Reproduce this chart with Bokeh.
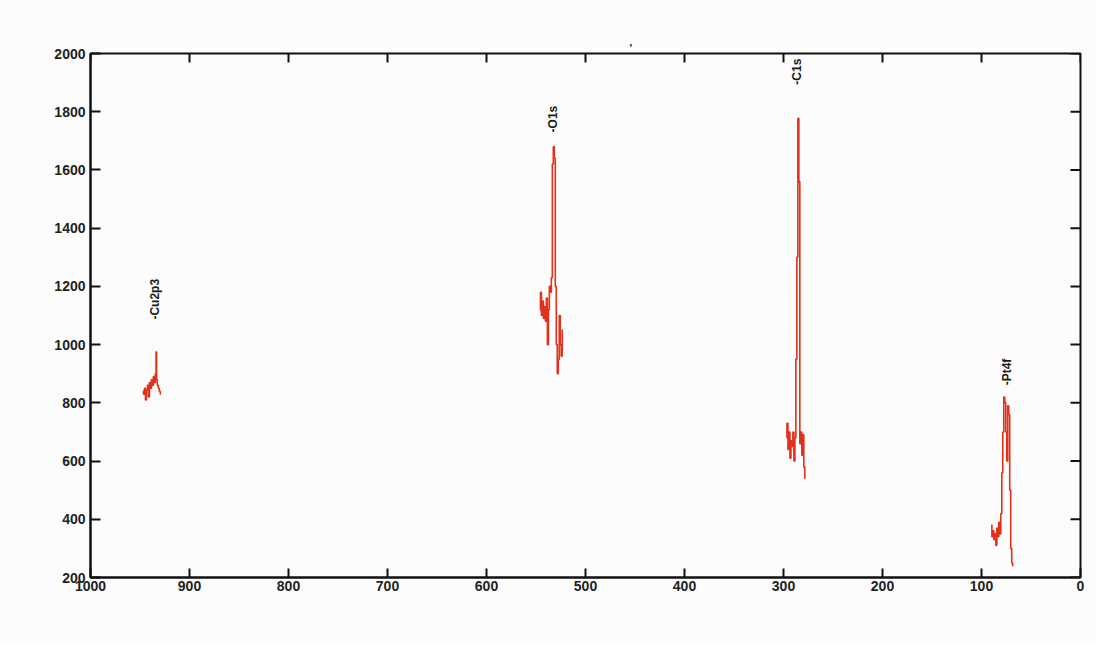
import numpy as np
from bokeh.plotting import figure
from bokeh.models import Range1d, FixedTicker, Title
from bokeh.core.properties import value
from bokeh.embed import file_html
from bokeh.resources import INLINE

# ---- data (binding energy, counts) ----
cu_x = [947, 946, 945, 944, 943, 942, 941, 940, 939, 938, 937, 936, 935, 934, 933.5, 933, 932, 931, 930, 929]
cu_y = [840, 830, 850, 810, 845, 860, 820, 870, 850, 880, 860, 890, 870, 900, 975, 880, 860, 850, 840, 830]

o_x = [546, 545, 544, 543, 542, 541, 540, 539, 538, 537, 536, 535, 534, 533, 532, 531, 530, 529, 528, 527, 526, 525, 524, 523]
o_y = [1120, 1180, 1100, 1150, 1090, 1130, 1080, 1160, 1000, 1120, 1200, 1180, 1230, 1620, 1680, 1640, 1200, 1000, 900, 950, 1100, 1000, 960, 1050]

c_x = [297, 296, 295, 294, 293, 292, 291, 290, 289, 288, 287, 286, 285, 284, 283, 282, 281, 280, 279, 278]
c_y = [680, 730, 640, 700, 610, 670, 650, 700, 600, 680, 950, 1300, 1777, 1560, 660, 700, 620, 690, 580, 540]

pt_x = [90, 89, 88, 87, 86, 85, 84, 83, 82, 81, 80, 79, 78, 77, 76, 75, 74, 73, 72, 71, 70, 69, 68]
pt_y = [380, 340, 360, 330, 350, 310, 370, 340, 390, 350, 420, 560, 700, 820, 800, 700, 600, 790, 760, 500, 300, 250, 240]

peak_labels = ["-Cu2p3", "-O1s", "-C1s", "-Pt4f"]
peak_label_x = [935, 533, 286, 74]
peak_label_y = [1086, 1729, 1893, 860]

x_ticks = [1000, 900, 800, 700, 600, 500, 400, 300, 200, 100, 0]
y_ticks = [200, 400, 600, 800, 1000, 1200, 1400, 1600, 1800, 2000]

X_MIN, X_MAX = 1000, 0
Y_MIN, Y_MAX = 200, 2000

RED = "#e2301a"
BG = "#fcfcfc"
AXC = "#111111"

p = figure(width=1096, height=643, output_backend="svg", toolbar_location=None,
           x_range=Range1d(X_MIN, X_MAX), y_range=Range1d(Y_MIN, Y_MAX),
           min_border_left=90, min_border_right=16, min_border_top=53, min_border_bottom=66)
p.background_fill_color = BG
p.border_fill_color = BG
p.grid.visible = False
p.outline_line_color = AXC
p.outline_line_width = 2

p.add_layout(Title(text="'", align="left", offset=539, text_font_size="11px",
                   text_font_style="bold", text_color="#222222", standoff=0), "above")

for ax in (p.xaxis[0], p.yaxis[0]):
    ax.axis_line_color = AXC
    ax.axis_line_width = 2
    ax.major_tick_line_color = AXC
    ax.major_tick_line_width = 2
    ax.major_tick_out = 0
    ax.minor_tick_line_color = None
    ax.major_label_text_color = "#222222"
    ax.major_label_text_font_style = "bold"
    ax.major_label_text_font = "Liberation Sans"

p.xaxis[0].ticker = FixedTicker(ticks=x_ticks)
p.xaxis[0].major_tick_in = 9
p.xaxis[0].major_label_text_font_size = "14px"
p.xaxis[0].major_label_standoff = 3

p.yaxis[0].ticker = FixedTicker(ticks=y_ticks)
p.yaxis[0].major_tick_in = 10
p.yaxis[0].major_label_text_font_size = "14px"
p.yaxis[0].major_label_standoff = 5

# mirrored inward ticks on the top and right edges (9-10 px long)
dx = abs(X_MAX - X_MIN) / 990 * 10
dy = (Y_MAX - Y_MIN) / 524 * 9
p.segment(x0=x_ticks, y0=[Y_MAX] * len(x_ticks), x1=x_ticks, y1=[Y_MAX - dy] * len(x_ticks),
          line_color=AXC, line_width=2)
p.segment(x0=[X_MAX] * len(y_ticks), y0=y_ticks, x1=[X_MAX + dx] * len(y_ticks), y1=y_ticks,
          line_color=AXC, line_width=2)

for xs, ys in ((cu_x, cu_y), (o_x, o_y), (c_x, c_y), (pt_x, pt_y)):
    p.step(xs, ys, mode="center", line_color=RED, line_width=1.6)

p.text(x=peak_label_x, y=peak_label_y, text=peak_labels, angle=np.pi / 2,
       text_align="left", text_baseline="middle", text_font=value("Liberation Sans"),
       text_font_style="bold", text_font_size="12px", text_color="#1a1a1a")

open("out.html", "w").write(file_html(p, INLINE))
